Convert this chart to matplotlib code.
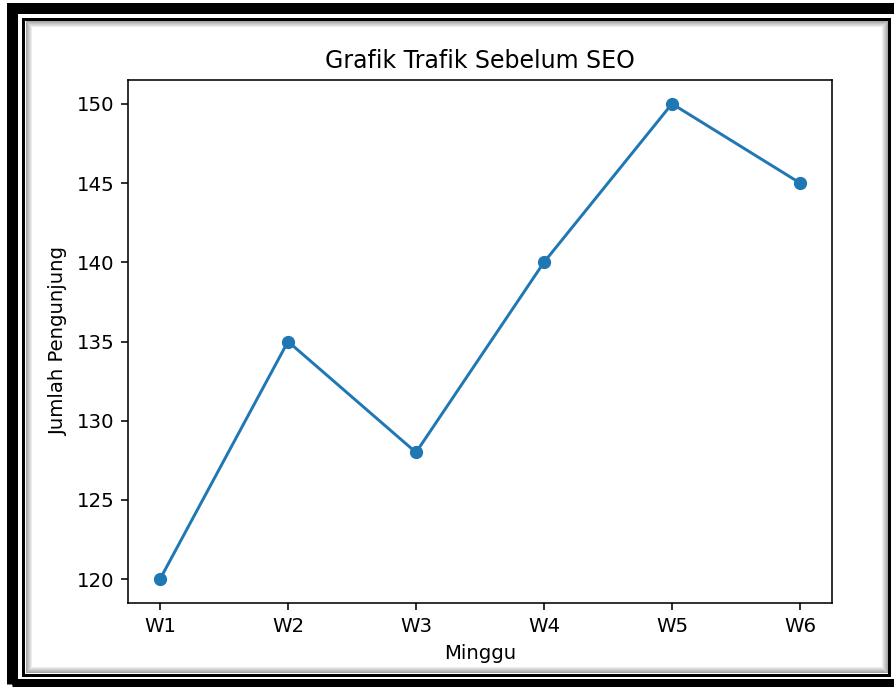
import matplotlib.pyplot as plt
from matplotlib.patches import Rectangle

# data
minggu = ["W1", "W2", "W3", "W4", "W5", "W6"]
pengunjung = [120, 135, 128, 140, 150, 145]

# the reference is a default figure scaled up by ~1.42
s = 1.42
plt.rcParams.update({
    "font.size": 10 * s,
    "axes.titlesize": 12 * s,
    "axes.labelsize": 10 * s,
    "xtick.labelsize": 10 * s,
    "ytick.labelsize": 10 * s,
    "axes.linewidth": 0.8 * s,
    "xtick.major.width": 0.8 * s,
    "ytick.major.width": 0.8 * s,
    "xtick.major.size": 3.5 * s,
    "ytick.major.size": 3.5 * s,
    "xtick.major.pad": 3.5 * s,
    "ytick.major.pad": 3.5 * s,
    "axes.titlepad": 6 * s,
    "axes.labelpad": 4 * s,
    "lines.linewidth": 1.5 * s,
    "lines.markersize": 6 * s,
})

W, H = 895, 687
fig = plt.figure(figsize=(W / 100, H / 100), dpi=100)
ax = fig.add_axes([128 / W, (H - 603) / H, (832 - 128) / W, (603 - 80) / H])

ax.plot(minggu, pengunjung, marker="o")
ax.set_title("Grafik Trafik Sebelum SEO")
ax.set_xlabel("Minggu")
ax.set_ylabel("Jumlah Pengunjung")


def frame(x0, y0, x1, y1, lw_px, color="black", alpha=1.0):
    # rectangle in pixel coords (y from top)
    r = Rectangle((x0 / W, (H - y1) / H), (x1 - x0) / W, (y1 - y0) / H,
                  transform=fig.transFigure, fill=False, edgecolor=color,
                  linewidth=lw_px * 72 / 100, alpha=alpha, clip_on=False)
    fig.add_artist(r)


# outer thick border and inner thin border
frame(12.5, 8, 898, 684, 11)
frame(23.5, 18.5, 889.5, 675, 3)
# inner shadow
for i in range(6):
    d = 26 + i
    frame(d, d - 5, 887 - i, 672 - i, 1, color="black", alpha=0.35 - i * 0.055)

fig.savefig("out.png", dpi=100)
